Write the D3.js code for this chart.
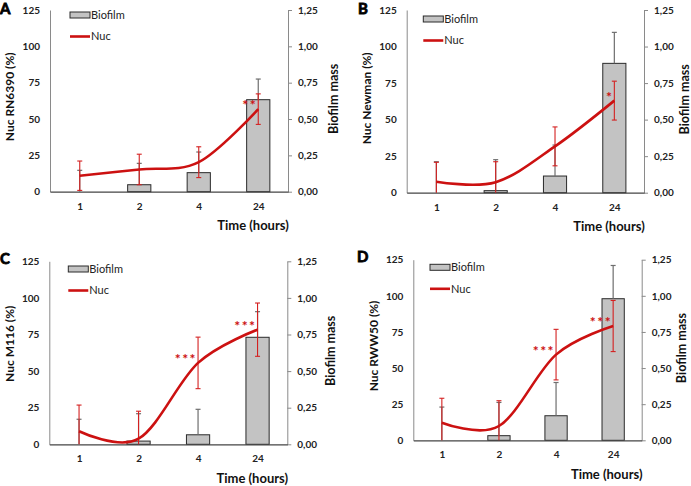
<!DOCTYPE html>
<html><head><meta charset="utf-8">
<script src="https://cdn.jsdelivr.net/npm/d3@7"></script>
<style>
html,body{margin:0;padding:0;background:#fff;}
svg{display:block;}
text{font-family:Lato,"Open Sans",sans-serif;}
</style></head>
<body><svg id="chart" width="691" height="486"></svg>
<script>
// ---------------- DATA ----------------
const categories = ["1", "2", "4", "24"];
const leftTicks = [0, 25, 50, 75, 100, 125];
const rightTicks = [0, 0.25, 0.5, 0.75, 1, 1.25];
const rightTickLabels = ["0,00", "0,25", "0,50", "0,75", "1,00", "1,25"];
const panelLetters = ["A", "B", "C", "D"];
const yTitles = ["Nuc RN6390 (%)", "Nuc Newman (%)", "Nuc M116 (%)", "Nuc RWW50 (%)"];
const y2Title = "Biofilm mass";
const xTitle = "Time (hours)";
const legendLabels = ["Biofilm", "Nuc"];

const nucA = [11.0, 15.3, 20.3, 56.8];
const nucErrA = [10.1, 10.5, 10.6, 10.5];
const biofilmA = [0, 0.048, 0.131, 0.633];
const biofilmErrA = [0.147, 0.147, 0.142, 0.142];
const sigA = ["", "", "", "**"];

const nucB = [7.5, 7.2, 31.7, 63.0];
const nucErrB = [13.3, 14.0, 13.3, 13.3];
const biofilmB = [0, 0.014, 0.114, 0.885];
const biofilmErrB = [0.212, 0.212, 0.212, 0.212];
const sigB = ["", "", "", "*"];

const nucC = [8.9, 3.8, 55.6, 78.3];
const nucErrC = [17.9, 18.8, 17.6, 18.2];
const biofilmC = [0, 0.022, 0.065, 0.731];
const biofilmErrC = [0.171, 0.187, 0.174, 0.175];
const sigC = ["", "", "***", "***"];

const nucD = [12.2, 9.9, 59.3, 79.1];
const nucErrD = [16.9, 17.5, 17.5, 17.7];
const biofilmD = [0, 0.032, 0.17, 0.98];
const biofilmErrD = [0.23, 0.23, 0.23, 0.23];
const sigD = ["", "", "***", "***"];

const panelsData = [
  {nuc: nucA, nucErr: nucErrA, bio: biofilmA, bioErr: biofilmErrA, sig: sigA},
  {nuc: nucB, nucErr: nucErrB, bio: biofilmB, bioErr: biofilmErrB, sig: sigB},
  {nuc: nucC, nucErr: nucErrC, bio: biofilmC, bioErr: biofilmErrC, sig: sigC},
  {nuc: nucD, nucErr: nucErrD, bio: biofilmD, bioErr: biofilmErrD, sig: sigD}
];

// ---------------- LAYOUT ----------------
const layouts = [
  {x0: 50,    x1: 288,   yTop: 10,    yBot: 191.7, lx: 20,   ly: 5,   lbx: 0,   lby: 0,   t1dy: -4, t2dx: 46},
  {x0: 406.7, x1: 644,   yTop: 10,    yBot: 192.7, lx: 16.6, ly: 9,   lbx: 358, lby: 0,   t1dy: -3, t2dx: 41},
  {x0: 49.3,  x1: 287.3, yTop: 261.3, yBot: 444.3, lx: 19,   ly: 7.7, lbx: 0,   lby: 250, t1dy: -9, t2dx: 43},
  {x0: 413.3, x1: 641.7, yTop: 259.7, yBot: 440.3, lx: 16.7, ly: 7.6, lbx: 357, lby: 248, t1dy: -4, t2dx: 40}
];

const RED = "#cc1111";
const svg = d3.select("#chart");
const curve = d3.curveCardinal.tension(0);

panelsData.forEach((d, i) => {
  const L = layouts[i];
  const g = svg.append("g");
  const x = d3.scalePoint().domain(categories).range([L.x0, L.x1]).padding(0.5);
  const step = x.step();
  const barW = step * 0.39;
  const yL = d3.scaleLinear().domain([0, 125]).range([L.yBot, L.yTop]);
  const yR = d3.scaleLinear().domain([0, 1.25]).range([L.yBot, L.yTop]);

  // left axis
  const axL = g.append("g").attr("transform", `translate(${L.x0},0)`)
    .call(d3.axisLeft(yL).tickValues(leftTicks).tickSize(0).tickPadding(10));
  axL.select(".domain").attr("stroke", "#8a8a8a").attr("stroke-width", 1);
  axL.selectAll("text").attr("font-size", 10).attr("font-weight", "bold").attr("fill", "#222")
    .attr("font-family", "Lato, sans-serif");

  // right axis
  const axR = g.append("g").attr("transform", `translate(${L.x1},0)`)
    .call(d3.axisRight(yR).tickValues(rightTicks).tickSize(4).tickSizeOuter(0).tickPadding(6)
      .tickFormat((v, k) => rightTickLabels[k]));
  axR.select(".domain").attr("stroke", "#8a8a8a").attr("stroke-width", 1);
  axR.selectAll("line").attr("stroke", "#8a8a8a");
  axR.selectAll("text").attr("font-size", 10).attr("font-weight", "bold").attr("fill", "#222")
    .attr("font-family", "Lato, sans-serif");

  // bars
  g.selectAll(".bar").data(d.bio).enter().append("rect")
    .attr("x", (v, k) => x(categories[k]) - barW / 2)
    .attr("width", barW)
    .attr("y", v => yR(v))
    .attr("height", v => yR(0) - yR(v))
    .attr("fill", "#c3c3c3").attr("stroke", "#2a2a2a").attr("stroke-width", 1)
    .style("display", v => v > 0 ? null : "none");

  // bottom axis
  const axB = g.append("g").attr("transform", `translate(0,${L.yBot})`)
    .call(d3.axisBottom(x).tickSize(0).tickPadding(11));
  axB.select(".domain").attr("stroke", "#444").attr("stroke-width", 1.2);
  axB.selectAll("text").attr("font-size", 10).attr("font-weight", "bold").attr("fill", "#222")
    .attr("font-family", "Lato, sans-serif");

  // biofilm error bars (upper)
  const capW = 5;
  d.bio.forEach((v, k) => {
    const cx = x(categories[k]);
    const top = yR(v + d.bioErr[k]);
    g.append("line").attr("x1", cx).attr("x2", cx).attr("y1", yR(v)).attr("y2", top)
      .attr("stroke", "#6e6e6e").attr("stroke-width", 1.2);
    g.append("line").attr("x1", cx - capW / 2).attr("x2", cx + capW / 2).attr("y1", top).attr("y2", top)
      .attr("stroke", "#6e6e6e").attr("stroke-width", 1.2);
  });

  // nuc error bars
  d.nuc.forEach((v, k) => {
    const cx = x(categories[k]);
    const top = yL(v + d.nucErr[k]);
    const lowV = v - d.nucErr[k];
    const bot = yL(Math.max(0, lowV));
    g.append("line").attr("x1", cx).attr("x2", cx).attr("y1", bot).attr("y2", top)
      .attr("stroke", "#d42020").attr("stroke-width", 1.1);
    g.append("line").attr("x1", cx - capW / 2).attr("x2", cx + capW / 2).attr("y1", top).attr("y2", top)
      .attr("stroke", "#d42020").attr("stroke-width", 1.1);
    if (lowV > 0) {
      g.append("line").attr("x1", cx - capW / 2).attr("x2", cx + capW / 2).attr("y1", bot).attr("y2", bot)
        .attr("stroke", "#d42020").attr("stroke-width", 1.1);
    }
  });

  // nuc line
  const line = d3.line().x((v, k) => x(categories[k])).y(v => yL(v)).curve(curve);
  g.append("path").datum(d.nuc).attr("d", line)
    .attr("fill", "none").attr("stroke", RED).attr("stroke-width", 2.6);

  // significance
  d.sig.forEach((s, k) => {
    if (!s) return;
    g.append("text").attr("x", x(categories[k]) - 1).attr("y", yL(d.nuc[k]) + 1)
      .attr("text-anchor", "end").attr("font-size", 14).attr("font-weight", "bold")
      .attr("fill", RED).attr("letter-spacing", 1.5).text(s);
  });

  // legend
  const lgx = L.x0 + L.lx, lgy = L.yTop + L.ly;
  g.append("rect").attr("x", lgx).attr("y", lgy - 3).attr("width", 20).attr("height", 6)
    .attr("fill", "#c3c3c3").attr("stroke", "#2a2a2a").attr("stroke-width", 1);
  g.append("text").attr("x", lgx + 21).attr("y", lgy).attr("dy", "0.35em")
    .attr("font-size", 11).attr("fill", "#222").text(legendLabels[0]);
  g.append("line").attr("x1", lgx).attr("x2", lgx + 20).attr("y1", lgy + 21.5).attr("y2", lgy + 21.5)
    .attr("stroke", RED).attr("stroke-width", 2.6);
  g.append("text").attr("x", lgx + 21).attr("y", lgy + 21.5).attr("dy", "0.35em")
    .attr("font-size", 11).attr("fill", "#222").text(legendLabels[1]);

  // axis titles
  const yMid = (L.yTop + L.yBot) / 2;
  g.append("text").attr("transform", `translate(${L.x0 - 40},${yMid + L.t1dy}) rotate(-90)`)
    .attr("text-anchor", "middle").attr("dy", "0.35em").attr("font-size", 12).attr("font-weight", "bold")
    .attr("fill", "#111").text(yTitles[i]);
  g.append("text").attr("transform", `translate(${L.x1 + L.t2dx},${yMid - 2}) rotate(-90)`)
    .attr("text-anchor", "middle").attr("dy", "0.35em").attr("font-size", 12.5).attr("font-weight", "bold")
    .attr("fill", "#111").text(y2Title);
  g.append("text").attr("x", L.x1 - 35).attr("y", L.yBot + 34).attr("dy", "0.35em")
    .attr("text-anchor", "middle").attr("font-size", 13).attr("font-weight", "bold")
    .attr("fill", "#111").text(xTitle);

  // panel letter
  g.append("text").attr("x", L.lbx).attr("y", L.lby + 14)
    .attr("font-family", "'DejaVu Sans', sans-serif").attr("font-size", 15).attr("font-weight", "bold")
    .attr("stroke", "#000").attr("stroke-width", 0.8)
    .attr("fill", "#000").text(panelLetters[i]);
});
</script>
</body></html>
